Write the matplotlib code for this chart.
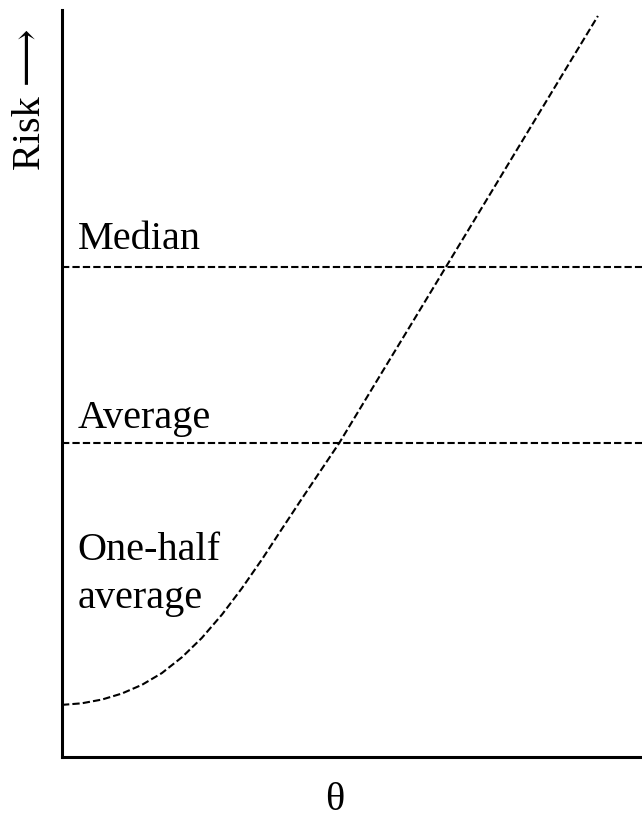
import matplotlib
matplotlib.use("Agg")
import matplotlib.pyplot as plt

# risk curve (theta scaled 0..1, risk in units of the average)
theta = [0.0, 0.034, 0.069, 0.103, 0.138, 0.172, 0.207, 0.241, 0.276, 0.310,
         0.345, 0.379, 0.414, 0.446, 0.478, 0.552, 0.605, 0.664, 0.709,
         0.767, 0.824, 0.881, 0.924]
risk = [0.166, 0.171, 0.183, 0.202, 0.230, 0.267, 0.318, 0.379, 0.454, 0.537,
        0.630, 0.726, 0.824, 0.912, 1.000, 1.226, 1.387, 1.567, 1.704,
        1.881, 2.055, 2.229, 2.360]

average = 1.0
median = 1.561
labels = ["Median", "Average", "One-half\naverage"]
label_y = [1.59, 1.02, 0.445]

plt.rcParams['font.family'] = ['Liberation Serif', 'DejaVu Serif']

fig = plt.figure(figsize=(6.42, 8.19), dpi=100)
ax = fig.add_axes([62/642, 62/819, 580/642, 747/819])

dash = (0, (3.5, 1.5))
ax.plot(theta, risk, color='black', lw=1.5, ls=dash)
ax.axhline(median, color='black', lw=1.5, ls=dash)
ax.axhline(average, color='black', lw=1.5, ls=dash)

for txt, yy in zip(labels, label_y):
    ax.text(0.027, yy, txt, fontsize=29, va='bottom', ha='left',
            linespacing=1.42)

ax.set_xlim(0, 1)
ax.set_ylim(0, 2.379)
ax.set_xticks([])
ax.set_yticks([])
for s in ['top', 'right']:
    ax.spines[s].set_visible(False)
for s in ['left', 'bottom']:
    ax.spines[s].set_linewidth(2.2)

fig.text(335/642, 1 - 801/819, "θ", fontsize=29, ha='center', va='center')
fig.text(31/642, 1 - 99/819, "Risk ⟶", fontsize=29, rotation=90,
         ha='center', va='center')

fig.savefig("out.png", dpi=100)
